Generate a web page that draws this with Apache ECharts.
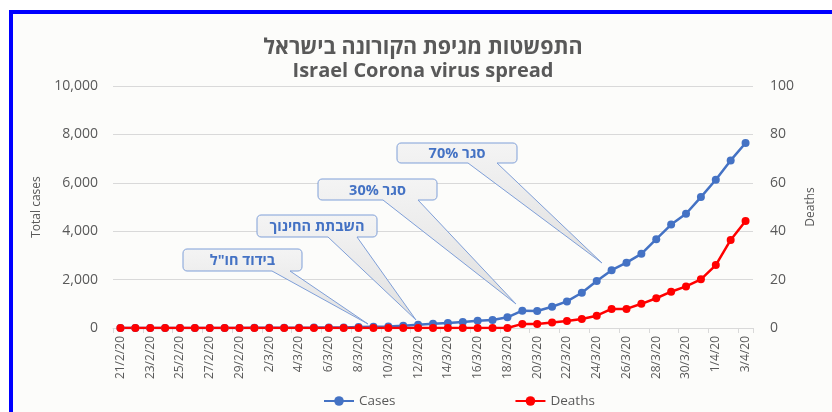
<!DOCTYPE html>
<html>
<head>
<meta charset="utf-8">
<script src="https://cdn.jsdelivr.net/npm/echarts@6/dist/echarts.min.js"></script>
<style>
html,body{margin:0;padding:0;background:#ffffff;}
#chart{width:832px;height:412px;}
</style>
</head>
<body>
<div id="chart"></div>
<script>
var dates = ['21/2/20','22/2/20','23/2/20','24/2/20','25/2/20','26/2/20','27/2/20','28/2/20','29/2/20',
  '1/3/20','2/3/20','3/3/20','4/3/20','5/3/20','6/3/20','7/3/20','8/3/20','9/3/20','10/3/20',
  '11/3/20','12/3/20','13/3/20','14/3/20','15/3/20','16/3/20','17/3/20','18/3/20','19/3/20','20/3/20',
  '21/3/20','22/3/20','23/3/20','24/3/20','25/3/20','26/3/20','27/3/20','28/3/20','29/3/20','30/3/20',
  '31/3/20','1/4/20','2/4/20','3/4/20'];
var cases = [1,1,1,1,1,2,3,3,4,7,10,12,15,17,21,25,39,50,60,
  90,135,175,205,250,300,330,440,715,705,
  880,1100,1455,1945,2390,2700,3065,3670,4275,4720,
  5410,6125,6925,7645];
var deaths = [0,0,0,0,0,0,0,0,0,0,0,0,0,0,0,0,0,0,0,
  0,0,0,0,0,0,0,0,1.7,1.7,
  2.3,2.9,3.7,5.1,7.9,7.9,10,12.3,15,17.2,
  20.1,26,36.4,44.2];
var titleHe = 'התפשטות מגיפת הקורונה בישראל';
var titleEn = 'Israel Corona virus spread';
var calloutTexts = ['בידוד חו"ל', 'השבתת החינוך', '30% סגר', '70% סגר'];

var FONT = '"Open Sans", "Liberation Sans", "DejaVu Sans", sans-serif';
var GRAY = '#595959';

function corner(pts, cx, cy, r, a0, a1) {
  for (var k = 0; k <= 4; k++) {
    var a = a0 + (a1 - a0) * k / 4;
    pts.push([cx + r * Math.cos(a), cy + r * Math.sin(a)]);
  }
}

function callout(x0, y0, x1, y1, a, b, tx, ty, text) {
  var r = 4, P = Math.PI, pts = [];
  corner(pts, x0 + r, y0 + r, r, P, 1.5 * P);
  corner(pts, x1 - r, y0 + r, r, 1.5 * P, 2 * P);
  corner(pts, x1 - r, y1 - r, r, 0, 0.5 * P);
  pts.push([b, y1], [tx, ty], [a, y1]);
  corner(pts, x0 + r, y1 - r, r, 0.5 * P, P);
  return [{
    type: 'polygon', z: 100,
    shape: { points: pts },
    style: {
      fill: { type: 'linear', x: 0, y: 0, x2: 0, y2: 1,
        colorStops: [{offset: 0, color: '#f4f4f4'}, {offset: 1, color: '#e0e0e0'}] },
      stroke: '#7f9fd8', lineWidth: 1
    }
  }, {
    type: 'text', z: 101,
    x: (x0 + x1) / 2, y: (y0 + y1) / 2 + 1,
    style: {
      text: text, fill: '#4472c4', font: 'bold 14.5px ' + FONT,
      align: 'center', verticalAlign: 'middle'
    }
  }];
}

var chart = echarts.init(document.getElementById('chart'), null, {renderer: 'canvas'});
var graphics = [{
  type: 'rect', z: -10,
  shape: { x: 11, y: 12, width: 900, height: 500 },
  style: { fill: '#fcfcfa', stroke: '#0000ff', lineWidth: 4 }
}];
graphics = graphics
  .concat(callout(183, 249, 302, 271, 272, 290, 368, 324, calloutTexts[0]))
  .concat(callout(257, 215, 377, 237, 328, 357, 416, 320, calloutTexts[1]))
  .concat(callout(318, 179, 437, 200, 383, 418, 516, 304, calloutTexts[2]))
  .concat(callout(397, 143, 517, 163, 468, 497, 602, 263, calloutTexts[3]));

chart.setOption({
  animation: false,
  backgroundColor: 'transparent',
  title: {
    text: titleHe,
    subtext: titleEn,
    left: 418, top: 30, textAlign: 'center', itemGap: 0,
    textStyle: { fontFamily: FONT, fontSize: 21.5, fontWeight: 'bold', color: GRAY, lineHeight: 25 },
    subtextStyle: { fontFamily: FONT, fontSize: 20, fontWeight: 'bold', color: GRAY, lineHeight: 22 }
  },
  legend: {
    left: 318, top: 389,
    itemWidth: 30, itemHeight: 12, itemGap: 119,
    textStyle: { fontFamily: FONT, fontSize: 13.5, color: GRAY },
    data: ['Cases', 'Deaths']
  },
  grid: { left: 113, right: 79, top: 86, bottom: 84, containLabel: false },
  xAxis: {
    type: 'category', data: dates, boundaryGap: true,
    axisLine: { lineStyle: { color: '#d9d9d9', width: 1 } },
    axisTick: { show: true, interval: 1, length: 5, lineStyle: { color: '#d9d9d9' } },
    axisLabel: { interval: 1, rotate: 90, margin: 8, fontFamily: FONT, fontSize: 12, color: GRAY },
    splitLine: { show: false }
  },
  yAxis: [{
    type: 'value', min: 0, max: 10000, interval: 2000,
    name: 'Total cases', nameLocation: 'middle', nameGap: 70, nameRotate: 90,
    nameTextStyle: { fontFamily: FONT, fontSize: 12, color: GRAY },
    axisLine: { show: false }, axisTick: { show: false },
    axisLabel: { margin: 15, fontFamily: FONT, fontSize: 14, color: GRAY,
      formatter: function (v) { return v.toLocaleString('en-US'); } },
    splitLine: { lineStyle: { color: '#d9d9d9', width: 1 } }
  }, {
    type: 'value', min: 0, max: 100, interval: 20, position: 'right',
    name: 'Deaths', nameLocation: 'middle', nameGap: 52, nameRotate: 90,
    nameTextStyle: { fontFamily: FONT, fontSize: 12, color: GRAY },
    axisLine: { show: false }, axisTick: { show: false },
    axisLabel: { margin: 17, fontFamily: FONT, fontSize: 14, color: GRAY },
    splitLine: { show: false }
  }],
  series: [{
    name: 'Cases', type: 'line', data: cases, yAxisIndex: 0,
    symbol: 'circle', symbolSize: 8, showAllSymbol: true,
    itemStyle: { color: '#4472c4' },
    lineStyle: { color: '#4472c4', width: 2.5 }
  }, {
    name: 'Deaths', type: 'line', data: deaths, yAxisIndex: 1,
    symbol: 'circle', symbolSize: 8, showAllSymbol: true,
    itemStyle: { color: '#ff0000' },
    lineStyle: { color: '#ff0000', width: 2.5 }
  }],
  graphic: graphics
});
</script>
</body>
</html>
